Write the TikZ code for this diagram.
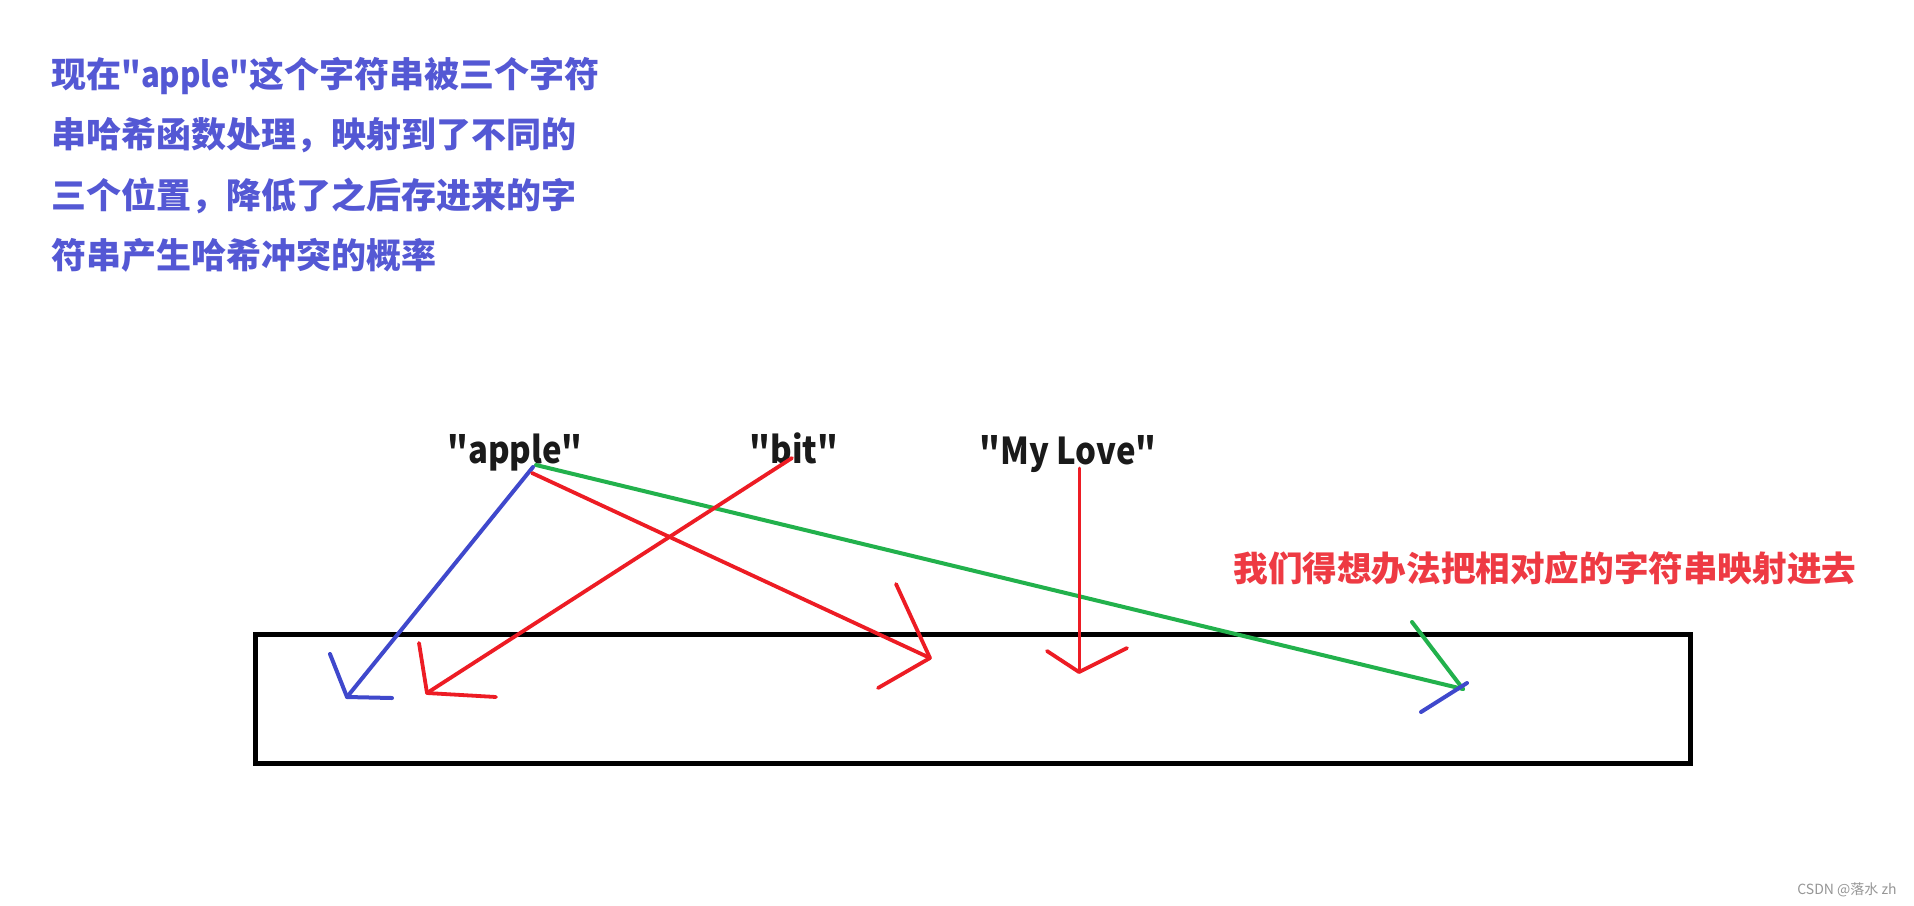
\documentclass[tikz,border=0pt]{standalone}
\usepackage{fontspec}
\usepackage{graphicx}
\newfontfamily\cjk{Noto Sans CJK SC}
\newcommand\narrowlat[1]{\scalebox{0.89}[1]{#1}}
\definecolor{paintblue}{HTML}{3F48CC}
\definecolor{paintred}{HTML}{ED1C24}
\definecolor{paintgreen}{HTML}{22B14C}
\definecolor{notetext}{RGB}{84,88,212}
\definecolor{hinttext}{RGB}{238,58,67}
\definecolor{wordtext}{RGB}{26,26,26}
\definecolor{marktext}{RGB}{150,150,150}
\begin{document}
\begin{tikzpicture}[x=0.5pt,y=-0.5pt,
  stroke/.style={line cap=round,line join=round},
  blueline/.style={stroke,draw=paintblue,line width=2pt},
  redline/.style={stroke,draw=paintred,line width=1.9pt},
  thinred/.style={stroke,draw=paintred,line width=1.5pt},
  greenline/.style={stroke,draw=paintgreen,line width=2pt},
  noteline/.style={inner sep=0pt,anchor=base west,text=notetext,font=\cjk\bfseries\fontsize{17.5}{21}\selectfont},
  word/.style={inner sep=0pt,anchor=base,text=wordtext,font=\cjk\bfseries\fontsize{18.5}{22}\selectfont},
  hint/.style={inner sep=0pt,anchor=base west,text=hinttext,font=\cjk\bfseries\fontsize{17.3}{21}\selectfont},
  watermark/.style={inner sep=0pt,anchor=base west,text=marktext,font=\cjk\fontsize{7}{9}\selectfont}]
\useasboundingbox[fill=white] (0,0) rectangle (1914,905);

% note text
\node[noteline] (t1) at (51,87) {现在\narrowlat{"apple"}这个字符串被三个字符};
\node[noteline] (t2) at (51,147.5) {串哈希函数处理，映射到了不同的};
\node[noteline] (t3) at (51,208) {三个位置，降低了之后存进来的字};
\node[noteline] (t4) at (51,268.5) {符串产生哈希冲突的概率};

% words
\node[word] (apple) at (515,463) {\narrowlat{"apple"}};
\node[word] (bit) at (794,463) {\narrowlat{"bit"}};
\node[word] (love) at (1068,464) {\narrowlat{"My Love"}};

\node[hint] (hintnode) at (1233,581) {我们得想办法把相对应的字符串映射进去};

\node[watermark] (wm) at (1797,894) {CSDN @落水 zh};

% array box
\draw[line width=2.5pt] (255,634) rectangle (1690,763);

% coordinates
\coordinate (aB) at (533,467);
\coordinate (aG) at (536,465);
\coordinate (aR) at (532,473);
\coordinate (bS) at (792,458);
\coordinate (lS) at (1079,468);

\coordinate (tipB) at (347,697);
\coordinate (tipB1) at (330,654);
\coordinate (tipB2) at (392,698);

\coordinate (tipR) at (930,658);
\coordinate (tipR1) at (896,584);
\coordinate (tipR2) at (878,688);

\coordinate (tipT) at (427,693);
\coordinate (tipT1) at (419,643);
\coordinate (tipT2) at (496,697);

\coordinate (tipL) at (1079,672);
\coordinate (tipL1) at (1047,651);
\coordinate (tipL2) at (1127,648);

\coordinate (tipG) at (1463,689);
\coordinate (tipG1) at (1412,622);
\coordinate (tipGb1) at (1467,683);
\coordinate (tipGb2) at (1421,712);

% green arrow
\draw[greenline] (aG) -- (tipG);
\draw[greenline] (tipG1) -- (tipG);
\draw[blueline] (tipGb1) -- (tipGb2);

% blue arrow
\draw[blueline] (aB) -- (tipB);
\draw[blueline] (tipB1) -- (tipB) -- (tipB2);

% red arrows
\draw[redline] (aR) -- (tipR);
\draw[redline] (tipR1) -- (tipR) -- (tipR2);

\draw[redline] (bS) -- (tipT);
\draw[redline] (tipT1) -- (tipT) -- (tipT2);

\draw[thinred] (lS) -- (tipL);
\draw[redline] (tipL1) -- (tipL) -- (tipL2);
\end{tikzpicture}
\end{document}
